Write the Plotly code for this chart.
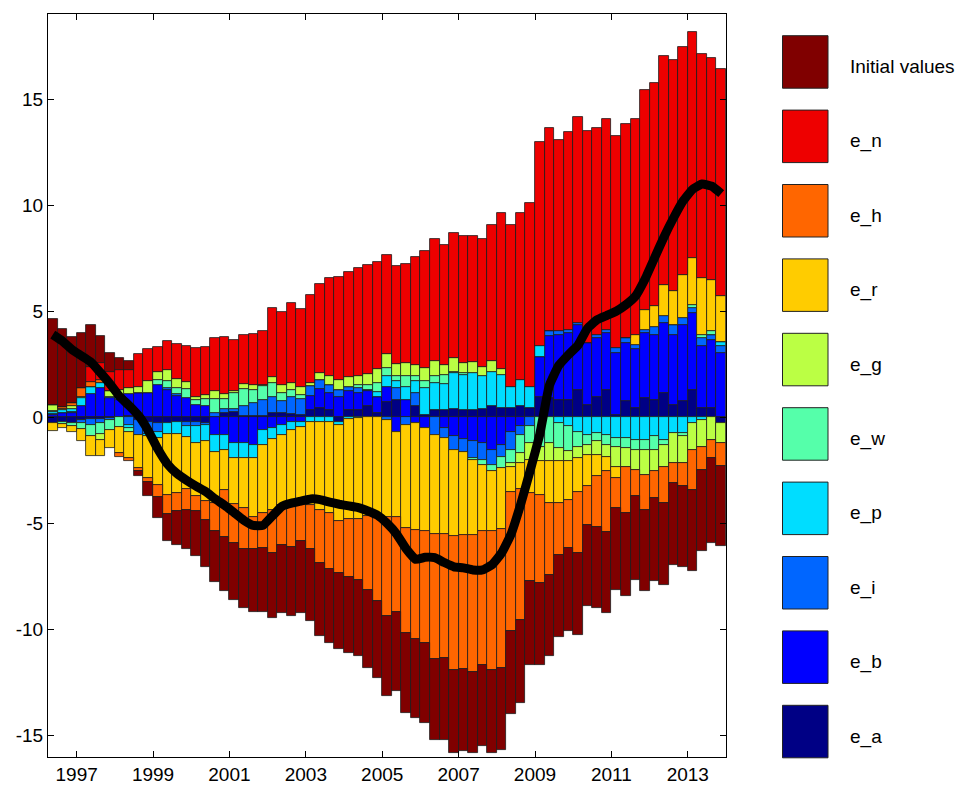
import plotly.graph_objects as go

# Quarterly sample 1996Q2 .. 2013Q4
quarters = [f"{y}Q{q}" for y in range(1996, 2014) for q in range(1, 5)][1:]

# Shock contributions (percentage points), one value per quarter
init_values = [4.05, 3.66, 3.14, 2.59, 1.99, 1.29, 0.91, 0.55, 0.43, -0.28,
               -0.70, -0.99, -1.28, -1.57, -1.83, -2.08, -2.25, -2.41, -2.56, -2.68,
               -2.78, -2.94, -3.02, -3.09, -3.23, -3.27, -3.43, -3.38, -3.46, -3.49,
               -3.57, -3.57, -3.62, -3.69, -3.65, -3.75, -3.73, -3.77, -3.73, -3.81,
               -3.80, -3.85, -3.87, -3.88, -3.81, -3.82, -3.90, -3.85, -3.89, -3.93,
               -3.93, -3.85, -3.85, -3.88, -3.93, -3.85, -3.85, -3.85, -3.85, -3.84,
               -3.90, -3.93, -3.81, -3.93, -3.85, -3.85, -3.81, -3.85, -3.80, -4.01,
               -3.77]
e_n = [0.0, 0.0, 0.0, 0.0, 0.71, 0.78, 0.90, 0.94, 0.86, 1.53,
       1.53, 1.15, 1.37, 1.67, 1.69, 2.30, 2.28, 2.51, 2.72, 2.41,
       2.33, 2.41, 2.55, 3.22, 3.43, 3.77, 3.69, 4.14, 4.20, 4.63,
       4.87, 4.98, 5.10, 5.15, 5.08, 4.68, 4.64, 4.66, 5.10, 5.50,
       5.74, 5.66, 5.90, 5.95, 5.93, 6.05, 6.39, 7.36, 7.63, 7.86,
       8.68, 9.62, 9.57, 9.04, 9.31, 9.72, 9.98, 9.75, 9.93, 9.99,
       10.11, 10.17, 10.38, 10.53, 10.77, 10.89, 10.74, 10.66, 10.57, 10.46,
       10.67]
e_h = [0.0, 0.10, 0.16, 0.40, 0.24, 0.16, 0.0, -0.15, -0.15, -0.11,
       -0.16, -0.59, -0.90, -0.86, -1.00, -0.74, -0.86, -1.33, -2.20, -1.85,
       -1.94, -1.51, -1.68, -2.02, -1.88, -1.91, -1.76, -2.09, -2.49, -2.67,
       -2.44, -2.76, -2.86, -3.49, -3.98, -4.71, -4.52, -4.95, -5.15, -5.24,
       -5.91, -5.86, -6.32, -6.34, -6.49, -6.29, -6.53, -6.56, -6.60, -6.19,
       -4.19, -4.17, -3.38, -2.44, -2.28, -2.91, -1.81, -2.36, -2.84, -1.42,
       -2.20, -1.25, -1.65, -1.26, -1.72, -0.95, -1.07, -1.89, -1.11, -0.87,
       -1.07]
e_r = [-0.40, -0.20, -0.30, -0.57, -0.92, -0.79, -0.86, -1.25, -1.26, -1.58,
       -1.97, -2.20, -2.85, -2.78, -2.44, -2.50, -2.87, -2.41, -1.92, -2.18,
       -2.38, -2.81, -3.19, -3.33, -3.30, -3.62, -3.57, -3.89, -4.12, -4.29,
       -4.56, -4.69, -4.76, -4.65, -4.68, -4.53, -4.01, -4.88, -5.04, -4.87,
       -4.67, -4.52, -4.08, -3.91, -3.51, -3.14, -2.83, -2.87, -1.18, -1.20,
       -1.55, -1.57, -1.97, -1.97, -1.81, -1.57, -1.49, -1.02, -0.70, -0.55,
       0.0, 0.47, 0.94, 0.95, 1.49, 1.58, 2.04, 2.18, 2.67, 2.44,
       2.20]
e_g = [0.28, 0.06, 0.10, 0.08, 0.0, -0.25, 0.24, 0.23, 0.27, 0.28,
       0.55, 0.39, 0.55, 0.40, 0.30, 0.15, 0.18, 0.35, 0.24, 0.11,
       0.23, 0.26, 0.04, 0.32, 0.36, 0.31, 0.35, 0.15, 0.31, 0.40,
       0.47, 0.43, 0.40, 0.51, 0.66, 0.67, 0.58, 0.65, 0.55, 0.63,
       0.73, 0.48, 0.63, 0.47, 0.52, 0.42, 0.54, 0.27, -0.18, -0.47,
       -0.78, -0.70, -0.86, -0.63, -0.47, -0.55, -0.47, -0.63, -0.55, -0.94,
       -0.87, -0.95, -1.18, -1.02, -1.02, -1.41, -1.26, -1.25, -1.23, -1.06,
       -0.94]
e_w = [0.05, -0.10, -0.15, -0.30, -0.55, -0.55, -0.45, -0.45, -0.15, 0.0,
       0.0, 0.24, 0.30, 0.30, 0.45, 0.20, 0.30, 0.67, 0.47, 0.76,
       0.79, 0.60, 0.67, 0.63, 0.42, 0.32, 0.21, 0.0, 0.0, 0.0,
       0.0, 0.0, 0.16, 0.23, 0.39, 0.36, 0.24, 0.48, 0.24, 0.32,
       0.32, 0.41, 0.08, 0.13, -0.10, -0.24, -0.31, -0.55, -0.61, -0.86,
       -0.79, -1.38, -1.22, -1.17, -1.18, -0.71, -0.47, -0.39, -0.47, -0.40,
       -0.47, -0.47, -0.47, -0.63, -0.24, 0.0, -0.15, 0.16, 0.16, 0.16,
       0.0]
e_p = [0.08, 0.12, 0.18, 0.39, 0.31, 0.23, 0.08, 0.15, -0.17, 0.0,
       -0.13, -0.31, -0.55, -0.60, -0.55, -0.80, -0.75, -0.81, -0.70, -0.71,
       -0.68, -0.60, -0.71, -0.52, -0.48, -0.39, -0.28, -0.24, -0.24, -0.20,
       -0.11, -0.10, -0.04, 0.0, 0.23, 0.51, 0.32, 0.62, 0.55, 1.25,
       1.26, 1.24, 1.70, 1.63, 1.76, 1.55, 1.61, 1.57, 0.99, 1.26,
       0.99, 0.53, 0.0, -0.28, -0.43, -0.67, -0.83, -0.75, -0.83, -0.98,
       -0.98, -1.06, -1.06, -0.90, -1.06, -0.75, -0.75, -0.28, -0.15, 0.0,
       0.16]
e_i = [0.05, 0.04, 0.05, -0.15, -0.25, -0.15, -0.10, 0.10, -0.35, -0.67,
       -0.57, -0.40, 0.10, 0.10, -0.20, -0.20, -0.10, 0.20, 0.18, 0.11,
       0.46, 0.63, 0.78, 0.78, 0.55, 0.83, 0.73, 0.48, 0.44, 0.39,
       0.32, 0.23, 0.20, 0.08, 0.0, -0.15, 0.54, -0.35, 0.63, 0.0,
       -0.83, -0.47, -0.64, -0.60, -0.79, -0.78, -0.71, -0.55, -0.83, -0.40,
       -0.43, 0.0, 0.24, 0.16, 0.16, 0.08, 0.0, 0.16, 0.16, 0.24,
       0.23, 0.21, 0.16, 0.39, 0.32, 0.47, 0.32, 0.24, 0.39, 0.23,
       0.36]
e_b = [0.12, 0.18, 0.18, 0.51, 1.10, 1.38, 0.90, 0.82, 1.07, 1.17,
       1.14, 1.53, 1.30, 1.00, 0.90, 0.60, 0.55, -0.83, -0.83, -1.19,
       -1.22, -1.30, -0.59, -0.51, -0.35, -0.20, -0.20, 0.66, 0.91, 0.79,
       0.98, 0.87, 0.82, 0.71, 0.78, 0.75, -0.67, 0.83, -0.27, -0.51,
       0.0, -0.51, -0.90, -1.03, -1.14, -1.22, -1.53, -1.30, -0.70, -0.43,
       0.0, 1.86, 2.94, 3.06, 3.14, 3.06, 2.91, 2.75, 2.67, 2.90,
       2.75, 2.78, 3.07, 3.06, 3.30, 3.30, 3.61, 3.61, 2.91, 3.23,
       3.02]
e_a = [-0.25, -0.20, -0.25, -0.12, -0.10, -0.10, -0.05, 0.0, 0.04, -0.15,
       -0.20, -0.27, -0.25, -0.20, -0.20, -0.20, -0.25, 0.0, 0.19, 0.26,
       0.08, 0.04, 0.04, 0.19, 0.20, 0.15, 0.12, 0.35, 0.42, 0.35,
       -0.24, 0.35, 0.35, 0.51, 0.20, 0.70, 0.83, 0.0, 0.51, 0.12,
       0.35, 0.35, 0.38, 0.35, 0.35, 0.38, 0.51, 0.43, 0.43, 0.51,
       0.43, 0.98, 0.90, 0.83, 0.83, 1.30, 0.59, 0.98, 1.30, 0.12,
       0.75, 0.43, 0.90, 0.83, 1.14, 0.59, 0.75, 1.30, 0.43, 0.43,
       -0.28]

# Observed (smoothed) variable, drawn as the thick black line
observed = [3.9, 3.6, 3.2, 2.9, 2.6, 2.1, 1.57, 0.98, 0.55, 0.07,
            -0.63, -1.5, -2.2, -2.65, -2.97, -3.25, -3.5, -3.85, -4.15, -4.5,
            -4.85, -5.1, -5.1, -4.65, -4.2, -4.05, -3.95, -3.85, -3.88, -4.0,
            -4.1, -4.18, -4.26, -4.42, -4.62, -5.0, -5.5, -6.2, -6.7, -6.6,
            -6.62, -6.85, -7.05, -7.1, -7.2, -7.2, -6.95, -6.4, -5.5, -4.1,
            -2.5, -0.8, 1.5, 2.45, 2.95, 3.4, 4.2, 4.6, 4.8, 5.0,
            5.3, 5.7, 6.5, 7.5, 8.5, 9.4, 10.2, 10.75, 11.0, 10.9,
            10.55]

tick_years = [1997, 1999, 2001, 2003, 2005, 2007, 2009, 2011, 2013]
y_ticks = [-15, -10, -5, 0, 5, 10, 15]

# Stacking order from zero outward; legend lists them in reverse
series = [
    ("e_a", e_a, "#000085"),
    ("e_b", e_b, "#0000FF"),
    ("e_i", e_i, "#0066FF"),
    ("e_p", e_p, "#00DDFF"),
    ("e_w", e_w, "#55FFAA"),
    ("e_g", e_g, "#BBFF44"),
    ("e_r", e_r, "#FFCC00"),
    ("e_h", e_h, "#FF6600"),
    ("e_n", e_n, "#EE0000"),
    ("Initial values", init_values, "#800000"),
]

# Numeric time axis: centre of each quarter
x_pos = [int(q[:4]) + (int(q[-1]) - 1) / 4 + 0.125 for q in quarters]

W, H = 959, 785
L, R, T, B = 48, 233, 14, 28
plot_w, plot_h = W - L - R, H - T - B
FONT = "Liberation Sans, Arial, sans-serif"

fig = go.Figure()
for name, vals, col in series:
    fig.add_trace(go.Bar(
        x=x_pos, y=vals, name=name, width=0.25,
        marker=dict(color=col, line=dict(color="#1a1a1a", width=0.8)),
        showlegend=False,
    ))

fig.add_trace(go.Scatter(
    x=x_pos, y=observed, mode="lines", name="observed",
    line=dict(color="black", width=9, shape="spline", smoothing=0.4),
    showlegend=False,
))

# Legend drawn as large swatches to the right of the axes
def px_to_paper_x(px):
    return (px - L) / plot_w

def px_to_paper_y(py):
    return (H - B - py) / plot_h

shapes = []
annotations = []
for i, (name, _, col) in enumerate(reversed(series)):
    top = 35.7 + 74.4 * i
    bot = top + 52.5
    shapes.append(dict(
        type="rect", xref="paper", yref="paper",
        x0=px_to_paper_x(782.5), x1=px_to_paper_x(828),
        y0=px_to_paper_y(bot), y1=px_to_paper_y(top),
        fillcolor=col, line=dict(color="#222222", width=1),
    ))
    annotations.append(dict(
        xref="paper", yref="paper",
        x=px_to_paper_x(848), y=px_to_paper_y((top + bot) / 2 + 5),
        text=name, showarrow=False, xanchor="left", yanchor="middle",
        font=dict(family=FONT, size=19, color="black"),
    ))

fig.update_layout(
    width=W, height=H,
    margin=dict(l=L, r=R, t=T, b=B, pad=0, autoexpand=False),
    barmode="relative", bargap=0,
    paper_bgcolor="white", plot_bgcolor="white",
    font=dict(family=FONT, size=19, color="black"),
    shapes=shapes, annotations=annotations,
    xaxis=dict(
        range=[1996.25, 2014.0], tickmode="array", tickvals=tick_years,
        ticktext=[str(y) for y in tick_years], automargin=False,
        ticks="inside", ticklen=6, tickcolor="black",
        showline=True, linecolor="black", linewidth=1, mirror="ticks",
        showgrid=False, zeroline=False,
    ),
    yaxis=dict(
        range=[-16.02, 19.02], tickmode="array", tickvals=y_ticks,
        ticktext=[str(v) for v in y_ticks], automargin=False,
        ticks="inside", ticklen=6, tickcolor="black",
        showline=True, linecolor="black", linewidth=1, mirror="ticks",
        showgrid=False, zeroline=False,
    ),
)

fig.write_html("out.html")
